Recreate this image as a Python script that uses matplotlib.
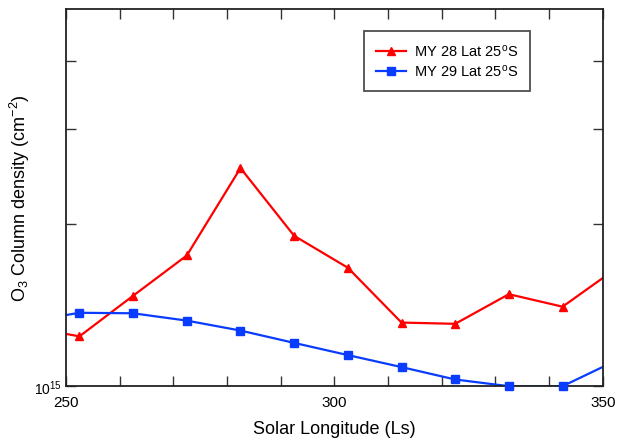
import matplotlib
matplotlib.use("Agg")
import matplotlib.pyplot as plt
from matplotlib.ticker import FixedLocator, MultipleLocator
import numpy as np

plt.rcParams["font.family"] = ["Liberation Sans", "DejaVu Sans"]
plt.rcParams["mathtext.fontset"] = "custom"
plt.rcParams["mathtext.rm"] = "Liberation Sans"
plt.rcParams["mathtext.it"] = "Liberation Sans:italic"

# ── Data (in units of 1e15 cm^-2) ────────────────────────────────────────────
ls = [242.5, 252.5, 262.5, 272.5, 282.5, 292.5, 302.5, 312.5, 322.5, 332.5, 342.5, 352.5]
my28 = [1.29, 1.237, 1.471, 1.747, 2.537, 1.900, 1.658, 1.312, 1.305, 1.481, 1.404, 1.653]
my29 = [1.316, 1.368, 1.365, 1.323, 1.268, 1.203, 1.142, 1.085, 1.029, 1.0, 1.0, 1.116]
labels = ["MY 28 Lat 25$^{\\mathregular{o}}$S", "MY 29 Lat 25$^{\\mathregular{o}}$S"]

RED = "#ff0000"
BLUE = "#0a3cff"

fig = plt.figure(figsize=(6.17, 4.39), dpi=100)
ax = fig.add_axes([0.107, 0.118, 0.870, 0.859])

x = np.array(ls)
inside = (x >= 250) & (x <= 350)
for vals, clr, mk, lab in [(my28, RED, "^", labels[0]), (my29, BLUE, "s", labels[1])]:
    y = np.array(vals) * 1e15
    ax.plot(x, y, color=clr, linewidth=1.6, zorder=2)
    ax.plot(x[inside], y[inside], linestyle="none", marker=mk, color=clr,
            markersize=6, clip_on=False, zorder=3)
    # legend proxy
    ax.plot([], [], color=clr, linewidth=1.6, marker=mk, markersize=6, label=lab)

ax.set_yscale("log")
ax.set_xlim(250, 350)
ax.set_ylim(1e15, 5e15)

ax.yaxis.set_major_locator(FixedLocator([1e15, 2e15, 3e15, 4e15]))
ax.yaxis.set_minor_locator(FixedLocator([]))
ax.set_yticklabels(["$\\mathregular{10^{15}}$", "", "", ""])
ax.xaxis.set_major_locator(FixedLocator([250, 300, 350]))
ax.xaxis.set_minor_locator(MultipleLocator(10))

ax.tick_params(which="both", direction="in", top=True, right=True,
               length=7, width=1.0, color="#333333")
ax.tick_params(axis="x", labelsize=11, pad=6)
ax.tick_params(axis="y", labelsize=10, pad=3)
for sp in ax.spines.values():
    sp.set_linewidth(1.3)
    sp.set_color("#222222")

ax.set_xlabel("Solar Longitude (Ls)", fontsize=13, labelpad=8)
ax.set_ylabel("O$_\\mathregular{3}$ Column density (cm$^{\\mathregular{-2}}$)",
              fontsize=13)
ax.yaxis.set_label_coords(-0.063, 0.5)

leg = ax.legend(loc="upper left", bbox_to_anchor=(0.555, 0.942), fontsize=10.5,
                frameon=True, fancybox=False, edgecolor="#222222",
                handlelength=2.1, handletextpad=0.5, borderpad=0.8,
                labelspacing=0.3, borderaxespad=0)
leg.get_frame().set_linewidth(1.3)

fig.savefig("out.png", dpi=100)
